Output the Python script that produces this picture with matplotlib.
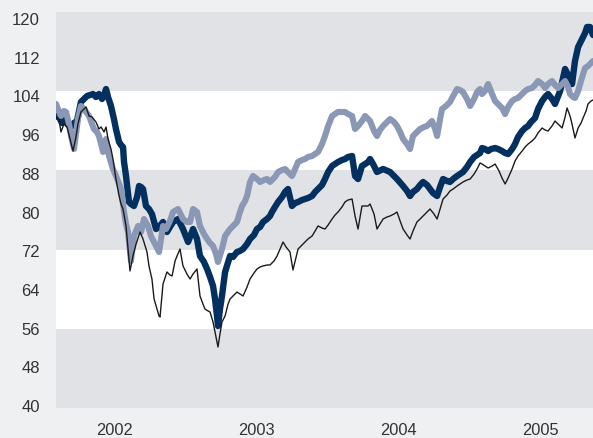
import matplotlib
matplotlib.use("Agg")
import matplotlib.pyplot as plt
from matplotlib.transforms import blended_transform_factory

# ---- data (index level, fractional years) ----
navy_t = [2001.584, 2001.605, 2001.626, 2001.648, 2001.669, 2001.690, 2001.711, 2001.732, 2001.760, 2001.782,
          2001.803, 2001.824, 2001.845, 2001.866, 2001.887, 2001.909, 2001.923, 2001.937, 2001.951, 2001.972,
          2001.993, 2002.007, 2002.029, 2002.043, 2002.057, 2002.064, 2002.078, 2002.099, 2002.113, 2002.134,
          2002.156, 2002.170, 2002.184, 2002.198, 2002.219, 2002.240, 2002.261, 2002.290, 2002.311, 2002.339,
          2002.367, 2002.388, 2002.410, 2002.445, 2002.480, 2002.516, 2002.551, 2002.579, 2002.600, 2002.628,
          2002.650, 2002.671, 2002.692, 2002.706, 2002.720, 2002.727, 2002.741, 2002.755, 2002.777, 2002.812,
          2002.833, 2002.861, 2002.882, 2002.904, 2002.932, 2002.953, 2002.981, 2003.002, 2003.024, 2003.045,
          2003.073, 2003.094, 2003.108, 2003.129, 2003.151, 2003.179, 2003.200, 2003.221, 2003.249, 2003.271,
          2003.292, 2003.320, 2003.341, 2003.362, 2003.391, 2003.412, 2003.433, 2003.461, 2003.482, 2003.504,
          2003.532, 2003.553, 2003.574, 2003.602, 2003.623, 2003.645, 2003.673, 2003.694, 2003.715, 2003.743,
          2003.765, 2003.786, 2003.800, 2003.821, 2003.849, 2003.892, 2003.941, 2003.990, 2004.033, 2004.061,
          2004.082, 2004.103, 2004.131, 2004.153, 2004.174, 2004.202, 2004.223, 2004.244, 2004.273, 2004.294,
          2004.315, 2004.343, 2004.364, 2004.386, 2004.414, 2004.435, 2004.456, 2004.484, 2004.506, 2004.534,
          2004.555, 2004.576, 2004.590, 2004.611, 2004.633, 2004.654, 2004.682, 2004.703, 2004.731, 2004.753,
          2004.774, 2004.802, 2004.823, 2004.844, 2004.873, 2004.894, 2004.915, 2004.936, 2004.964, 2004.985,
          2005.014, 2005.035, 2005.056, 2005.084, 2005.105, 2005.141, 2005.176, 2005.204, 2005.225, 2005.246,
          2005.268, 2005.296, 2005.317, 2005.331, 2005.352, 2005.373]
navy_v = [98.99, 98.79, 97.58, 98.38, 97.17, 96.77, 97.58, 97.98, 101.82, 102.43,
          103.03, 103.23, 103.43, 102.83, 103.43, 102.43, 103.23, 104.44, 102.83, 101.01,
          98.38, 96.36, 93.74, 93.13, 92.73, 89.70, 86.87, 81.62, 81.21, 80.81,
          82.63, 84.85, 84.65, 84.24, 80.81, 80.20, 79.19, 76.16, 76.57, 77.58,
          75.56, 76.57, 77.58, 78.18, 76.16, 73.54, 76.16, 74.14, 70.71, 69.50,
          68.08, 66.46, 64.65, 62.02, 58.59, 56.57, 60.00, 62.63, 67.48, 70.71,
          70.51, 71.52, 71.72, 72.12, 73.13, 74.14, 74.95, 76.16, 76.57, 77.58,
          78.18, 78.79, 79.60, 80.61, 81.62, 82.63, 83.64, 84.24, 80.81, 81.41,
          81.62, 82.02, 82.22, 82.42, 82.83, 83.64, 84.24, 85.05, 86.26, 87.68,
          88.89, 89.29, 89.70, 90.10, 90.30, 90.71, 90.91, 86.87, 86.26, 88.89,
          89.29, 89.70, 90.30, 89.29, 87.68, 88.28, 87.68, 86.26, 84.85, 83.84,
          82.83, 83.64, 84.24, 85.05, 85.66, 85.05, 84.24, 83.43, 82.83, 84.65,
          86.26, 85.86, 85.66, 86.26, 86.87, 87.27, 87.68, 88.69, 89.70, 90.71,
          91.11, 91.52, 92.52, 92.32, 91.92, 92.32, 92.52, 92.32, 91.92, 91.52,
          91.31, 92.32, 93.33, 94.75, 95.96, 96.57, 96.97, 97.78, 98.59, 100.40,
          102.02, 102.83, 103.43, 102.43, 101.42, 104.04, 108.49, 106.87, 105.45, 110.10,
          112.93, 114.55, 115.76, 116.97, 116.97, 115.35]

light_t = [2001.584, 2001.598, 2001.619, 2001.640, 2001.655, 2001.676, 2001.690, 2001.711, 2001.725, 2001.739,
           2001.760, 2001.782, 2001.796, 2001.817, 2001.838, 2001.852, 2001.873, 2001.887, 2001.902, 2001.916,
           2001.937, 2001.958, 2001.986, 2002.007, 2002.029, 2002.043, 2002.064, 2002.078, 2002.092, 2002.113,
           2002.134, 2002.163, 2002.184, 2002.205, 2002.233, 2002.254, 2002.276, 2002.290, 2002.311, 2002.339,
           2002.360, 2002.388, 2002.410, 2002.445, 2002.480, 2002.508, 2002.530, 2002.551, 2002.579, 2002.600,
           2002.628, 2002.650, 2002.671, 2002.692, 2002.713, 2002.727, 2002.755, 2002.777, 2002.812, 2002.840,
           2002.861, 2002.882, 2002.897, 2002.918, 2002.932, 2002.953, 2002.974, 2003.002, 2003.024, 2003.052,
           2003.073, 2003.094, 2003.129, 2003.151, 2003.179, 2003.200, 2003.221, 2003.249, 2003.271, 2003.292,
           2003.320, 2003.341, 2003.362, 2003.391, 2003.412, 2003.433, 2003.461, 2003.482, 2003.504, 2003.532,
           2003.553, 2003.574, 2003.602, 2003.623, 2003.645, 2003.673, 2003.694, 2003.715, 2003.743, 2003.765,
           2003.800, 2003.828, 2003.849, 2003.870, 2003.892, 2003.920, 2003.941, 2003.969, 2003.990, 2004.012,
           2004.033, 2004.061, 2004.082, 2004.103, 2004.131, 2004.153, 2004.181, 2004.202, 2004.237, 2004.259,
           2004.273, 2004.294, 2004.308, 2004.336, 2004.364, 2004.386, 2004.414, 2004.435, 2004.456, 2004.484,
           2004.506, 2004.534, 2004.555, 2004.576, 2004.590, 2004.611, 2004.633, 2004.661, 2004.682, 2004.710,
           2004.731, 2004.753, 2004.774, 2004.802, 2004.823, 2004.844, 2004.873, 2004.894, 2004.915, 2004.943,
           2004.964, 2004.985, 2005.014, 2005.035, 2005.056, 2005.084, 2005.105, 2005.127, 2005.155, 2005.176,
           2005.197, 2005.211, 2005.232, 2005.246, 2005.268, 2005.282, 2005.303, 2005.317, 2005.338, 2005.352,
           2005.373]
light_v = [101.42, 100.40, 98.99, 100.00, 99.80, 97.37, 94.95, 92.32, 95.35, 98.38,
           101.01, 100.40, 99.80, 98.99, 97.37, 96.36, 95.76, 94.95, 93.33, 91.72,
           94.34, 90.91, 88.28, 86.87, 85.25, 84.24, 79.60, 77.17, 75.56, 69.70,
           74.75, 76.77, 75.56, 78.18, 76.77, 74.75, 73.54, 72.73, 71.52, 76.77,
           76.16, 77.78, 79.60, 80.20, 78.18, 77.58, 77.58, 80.20, 79.60, 76.77,
           75.15, 74.14, 73.33, 72.73, 71.11, 69.50, 72.12, 74.75, 76.16, 76.97,
           77.58, 79.60, 80.81, 81.82, 82.83, 85.66, 86.87, 86.26, 85.66, 86.06,
           86.26, 85.66, 86.67, 87.68, 88.08, 88.28, 87.68, 86.87, 88.28, 89.70,
           90.10, 90.30, 90.71, 90.91, 91.31, 91.72, 93.33, 94.95, 96.97, 98.99,
           99.39, 99.80, 99.80, 99.80, 99.39, 98.99, 96.36, 96.97, 97.98, 98.99,
           97.98, 95.96, 94.95, 96.16, 96.97, 97.78, 98.38, 97.78, 96.97, 95.76,
           94.34, 93.33, 92.32, 94.95, 95.76, 96.36, 96.77, 96.97, 97.98, 96.36,
           94.95, 98.38, 100.40, 101.01, 101.82, 103.03, 104.44, 104.24, 103.84, 102.43,
           101.01, 102.43, 103.84, 104.44, 103.43, 104.04, 105.45, 103.43, 102.02, 101.21,
           100.61, 99.39, 100.81, 102.02, 102.43, 102.63, 103.43, 104.04, 104.44, 104.65,
           105.25, 106.06, 105.45, 104.65, 105.45, 106.06, 105.25, 104.65, 105.45, 106.06,
           104.85, 103.43, 102.83, 102.63, 104.04, 105.45, 107.47, 108.69, 109.09, 109.49,
           110.10]

black_t = [2001.584, 2001.605, 2001.619, 2001.640, 2001.662, 2001.683, 2001.704, 2001.725, 2001.739, 2001.760,
           2001.782, 2001.796, 2001.817, 2001.838, 2001.866, 2001.887, 2001.902, 2001.923, 2001.937, 2001.951,
           2001.972, 2001.986, 2002.007, 2002.029, 2002.043, 2002.057, 2002.078, 2002.092, 2002.106, 2002.127,
           2002.149, 2002.177, 2002.198, 2002.226, 2002.240, 2002.261, 2002.276, 2002.297, 2002.311, 2002.318,
           2002.339, 2002.367, 2002.388, 2002.403, 2002.424, 2002.438, 2002.459, 2002.480, 2002.508, 2002.530,
           2002.551, 2002.579, 2002.600, 2002.621, 2002.635, 2002.657, 2002.671, 2002.692, 2002.706, 2002.720,
           2002.727, 2002.741, 2002.755, 2002.777, 2002.798, 2002.812, 2002.840, 2002.861, 2002.882, 2002.904,
           2002.932, 2002.953, 2002.981, 2003.002, 2003.024, 2003.045, 2003.073, 2003.094, 2003.122, 2003.144,
           2003.165, 2003.186, 2003.207, 2003.235, 2003.256, 2003.278, 2003.292, 2003.320, 2003.341, 2003.362,
           2003.391, 2003.412, 2003.433, 2003.461, 2003.482, 2003.504, 2003.532, 2003.553, 2003.574, 2003.602,
           2003.623, 2003.645, 2003.673, 2003.694, 2003.715, 2003.743, 2003.765, 2003.786, 2003.800, 2003.828,
           2003.849, 2003.870, 2003.892, 2003.920, 2003.941, 2003.969, 2003.990, 2004.012, 2004.033, 2004.061,
           2004.082, 2004.103, 2004.131, 2004.153, 2004.174, 2004.202, 2004.223, 2004.251, 2004.273, 2004.294,
           2004.315, 2004.343, 2004.364, 2004.386, 2004.414, 2004.435, 2004.456, 2004.484, 2004.506, 2004.534,
           2004.555, 2004.576, 2004.590, 2004.611, 2004.633, 2004.661, 2004.682, 2004.710, 2004.731, 2004.753,
           2004.774, 2004.802, 2004.823, 2004.844, 2004.873, 2004.894, 2004.915, 2004.943, 2004.964, 2004.985,
           2005.014, 2005.035, 2005.056, 2005.084, 2005.105, 2005.127, 2005.155, 2005.176, 2005.190, 2005.211,
           2005.225, 2005.246, 2005.268, 2005.289, 2005.303, 2005.324, 2005.338, 2005.359, 2005.373]
black_v = [98.79, 98.38, 95.76, 97.37, 96.77, 94.34, 91.92, 94.75, 97.37, 99.80,
           100.40, 100.81, 98.99, 98.79, 97.78, 96.36, 96.77, 95.76, 96.77, 94.34,
           92.32, 90.30, 86.26, 82.83, 81.21, 80.20, 76.77, 72.12, 67.68, 70.71,
           73.13, 75.56, 74.14, 71.52, 68.69, 66.06, 62.02, 60.00, 58.59, 58.38,
           65.05, 67.48, 66.87, 66.67, 69.70, 70.71, 72.12, 68.69, 67.07, 66.06,
           67.07, 68.08, 62.63, 61.01, 60.00, 59.60, 59.39, 57.37, 55.35, 53.33,
           52.32, 54.95, 57.37, 58.59, 61.01, 62.02, 62.83, 63.43, 63.03, 62.63,
           64.45, 66.06, 67.27, 68.08, 68.49, 68.69, 68.89, 68.89, 69.70, 70.71,
           72.12, 73.54, 72.53, 71.52, 67.88, 70.51, 72.12, 72.93, 73.54, 74.14,
           74.75, 75.76, 76.77, 76.36, 76.16, 76.97, 78.18, 78.99, 79.60, 80.61,
           81.62, 82.02, 82.22, 78.79, 76.16, 80.81, 80.81, 80.81, 81.21, 79.19,
           76.16, 77.17, 78.18, 78.59, 78.79, 79.19, 79.60, 77.78, 76.16, 74.95,
           74.14, 75.76, 77.58, 78.18, 78.79, 79.60, 80.20, 79.19, 78.18, 80.20,
           82.22, 83.03, 83.84, 84.24, 84.85, 85.25, 85.66, 86.06, 86.26, 87.27,
           88.28, 89.50, 89.29, 88.89, 88.48, 88.89, 89.29, 87.88, 86.46, 85.25,
           86.46, 88.28, 89.90, 90.91, 91.92, 92.73, 93.33, 93.94, 94.55, 95.56,
           96.57, 96.16, 95.96, 96.97, 97.98, 97.37, 96.57, 98.79, 100.61, 98.99,
           97.37, 94.55, 96.57, 97.58, 98.59, 100.00, 101.42, 102.02, 102.22]

year_ticks = [2002, 2003, 2004, 2005]
year_labels = ["2002", "2003", "2004", "2005"]
y_ticks = [40, 48, 56, 64, 72, 80, 88, 96, 104, 112, 120]
grey_bands = [(40, 56), (72, 88), (104, 120)]
x_range = (2001.584, 2005.373)

# ---- styling ----
FIG_BG = "#eff0f2"
BAND = "#e1e2e6"
NAVY = "#03305f"
LIGHT = "#8a97b5"
BLACK = "#1b1b1b"
TXT = "#333333"
W, H = 593, 439

plt.rcParams['font.family'] = ['Liberation Sans', 'DejaVu Sans']

fig = plt.figure(figsize=(W / 100, H / 100), dpi=100, facecolor=FIG_BG)
ax = fig.add_axes([56 / W, 1 - 409 / H, 1 - 56 / W, (409 - 13) / H])
ax.set_facecolor("white")

for lo, hi in grey_bands:
    ax.axhspan(lo, hi, color=BAND, lw=0, zorder=0)

ax.plot(navy_t, navy_v, color=NAVY, lw=4.6, solid_joinstyle="round", solid_capstyle="round", zorder=2)
ax.plot(light_t, light_v, color=LIGHT, lw=4.4, solid_joinstyle="round", solid_capstyle="round", zorder=3)
ax.plot(black_t, black_v, color=BLACK, lw=1.0, solid_joinstyle="round", zorder=4)

ax.set_xlim(*x_range)
ax.set_ylim(40, 120)
ax.set_xticks([])
ax.set_yticks([])
for s in ax.spines.values():
    s.set_visible(False)

# y-axis labels (left, slightly compressed label scale as in the reference)
for v in y_ticks:
    base_px = 25 + (120 - v) * 4.84
    fig.text(40 / W, 1 - base_px / H, str(v), ha="right", va="baseline",
             fontsize=12, color=TXT)

# x-axis year labels
xtr = blended_transform_factory(ax.transData, fig.transFigure)
for t, lab in zip(year_ticks, year_labels):
    ax.text(t, 1 - 435.5 / H, lab, transform=xtr, ha="center", va="baseline",
            fontsize=11.8, color=TXT, clip_on=False)

fig.savefig("out.png", dpi=100, facecolor=FIG_BG)
